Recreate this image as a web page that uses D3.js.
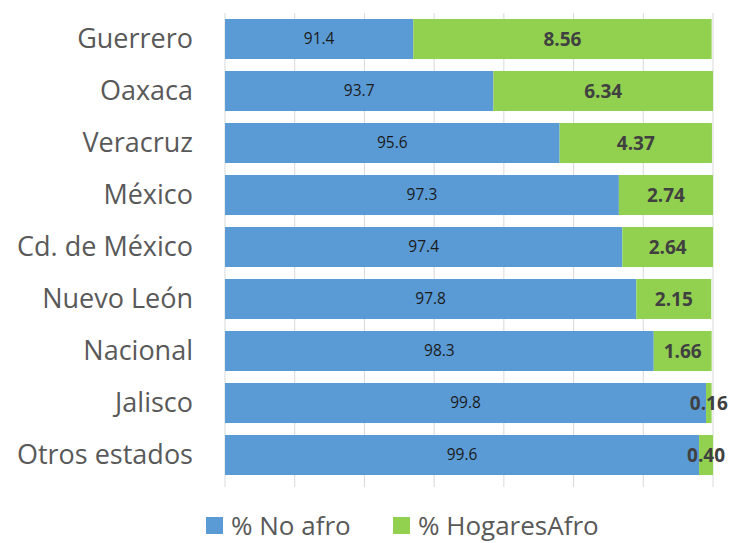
<!DOCTYPE html>
<html lang="es">
<head>
<meta charset="UTF-8" />
<title>Hogares afro por estado</title>
<script src="https://d3js.org/d3.v7.min.js"></script>
<style>
    body { margin: 0; background: #fff; }
    svg { display: block; font-family: "Open Sans", "Noto Sans", sans-serif; }
</style>
</head>
<body>
<div id="chart"></div>
<script>
    // --- Data ---
    const estados = ["Guerrero", "Oaxaca", "Veracruz", "México", "Cd. de México", "Nuevo León", "Nacional", "Jalisco", "Otros estados"];
    const noAfro = [91.4, 93.7, 95.6, 97.3, 97.4, 97.8, 98.3, 99.8, 99.6];
    const hogaresAfro = [8.56, 6.34, 4.37, 2.74, 2.64, 2.15, 1.66, 0.16, 0.40];
    const xTicks = [86, 88, 90, 92, 94, 96, 98, 100];
    const seriesNames = ["% No afro", "% HogaresAfro"];
    const colors = ["#5B9BD5", "#92D050"];

    const width = 736, height = 543;
    const margin = { top: 13, right: 23, bottom: 62, left: 225 };

    const svg = d3.select("#chart").append("svg")
        .attr("width", width)
        .attr("height", height);

    const x = d3.scaleLinear()
        .domain([86, 100])
        .range([margin.left, width - margin.right]);

    const y = d3.scaleBand()
        .domain(estados)
        .range([margin.top, height - margin.bottom])
        .paddingInner(0.23)
        .paddingOuter(0.115);

    // gridlines
    svg.append("g")
        .selectAll("line")
        .data(xTicks)
        .join("line")
        .attr("x1", d => x(d))
        .attr("x2", d => x(d))
        .attr("y1", margin.top)
        .attr("y2", height - margin.bottom + 6)
        .attr("stroke", "#d9d9d9")
        .attr("stroke-width", 1);

    const rows = estados.map((e, i) => ({ estado: e, a: noAfro[i], b: hogaresAfro[i] }));

    // blue segments
    svg.append("g")
        .selectAll("rect")
        .data(rows)
        .join("rect")
        .attr("x", x(86))
        .attr("y", d => y(d.estado))
        .attr("width", d => x(d.a) - x(86))
        .attr("height", y.bandwidth())
        .attr("fill", colors[0]);

    // green segments (clipped at 100)
    svg.append("g")
        .selectAll("rect")
        .data(rows)
        .join("rect")
        .attr("x", d => x(d.a))
        .attr("y", d => y(d.estado))
        .attr("width", d => x(Math.min(100, d.a + d.b)) - x(d.a))
        .attr("height", y.bandwidth())
        .attr("fill", colors[1]);

    // value labels
    svg.append("g")
        .selectAll("text")
        .data(rows)
        .join("text")
        .attr("x", d => (x(86) + x(d.a)) / 2)
        .attr("y", d => y(d.estado) + y.bandwidth() / 2)
        .attr("dy", "0.35em")
        .attr("text-anchor", "middle")
        .attr("font-size", 15.5)
        .attr("fill", "#1a1a1a")
        .text(d => d.a.toFixed(1));

    svg.append("g")
        .selectAll("text")
        .data(rows)
        .join("text")
        .attr("x", d => (x(d.a) + x(Math.min(100, d.a + d.b))) / 2)
        .attr("y", d => y(d.estado) + y.bandwidth() / 2)
        .attr("dy", "0.35em")
        .attr("text-anchor", "middle")
        .attr("font-size", 19)
        .attr("font-weight", "bold")
        .attr("fill", "#404040")
        .text(d => d.b.toFixed(2));

    // category labels
    svg.append("g")
        .selectAll("text")
        .data(estados)
        .join("text")
        .attr("x", margin.left - 32)
        .attr("y", d => y(d) + y.bandwidth() / 2)
        .attr("dy", "0.35em")
        .attr("text-anchor", "end")
        .attr("font-size", 27)
        .attr("fill", "#595959")
        .text(d => d);

    // legend
    const legendX = [206, 393];
    const legend = svg.append("g")
        .selectAll("g")
        .data(seriesNames)
        .join("g")
        .attr("transform", (d, i) => `translate(${legendX[i]},517)`);
    legend.append("rect")
        .attr("width", 17)
        .attr("height", 17)
        .attr("fill", (d, i) => colors[i]);
    legend.append("text")
        .attr("x", 25)
        .attr("y", 9)
        .attr("dy", "0.33em")
        .attr("font-size", 26)
        .attr("fill", "#595959")
        .text(d => d);
</script>
</body>
</html>
